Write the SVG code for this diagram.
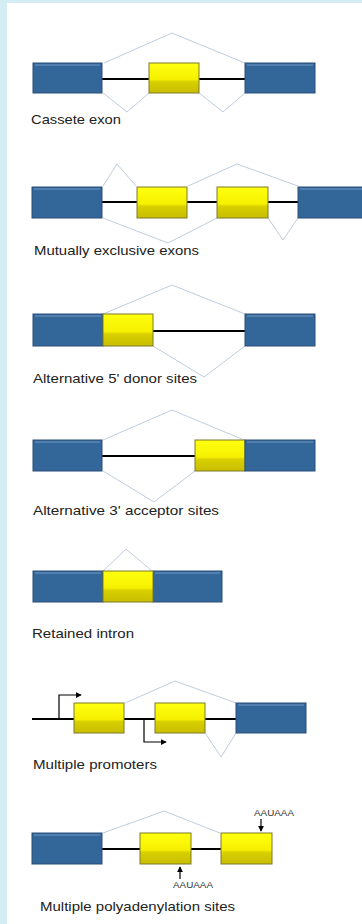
<svg xmlns="http://www.w3.org/2000/svg" width="362" height="924" viewBox="0 0 362 924">
<defs>
<linearGradient id="yg" x1="0" y1="0" x2="0" y2="1">
<stop offset="0" stop-color="#ffff10"/>
<stop offset="0.55" stop-color="#f6f000"/>
<stop offset="0.62" stop-color="#d9d000"/>
<stop offset="1" stop-color="#c8bd00"/>
</linearGradient>
<marker id="ah" viewBox="0 0 8 8" refX="7" refY="4" markerWidth="6" markerHeight="6" orient="auto" markerUnits="userSpaceOnUse">
<path d="M0,0 L8,4 L0,8 Z" fill="#000"/>
</marker>
<style>
.b{fill:#336699;stroke:#2a4e78;stroke-width:1}
.y{fill:url(#yg);stroke:#7d7a2a;stroke-width:1}
.hl{stroke:#6e98c8;stroke-width:1.2}
.ln{stroke:#000;stroke-width:2.2}
.sp{fill:none;stroke:#b8c6da;stroke-width:0.9}
.t{font-family:"Liberation Sans",Arial,sans-serif;font-size:13.5px;fill:#222}
.s{font-family:"Liberation Sans",Arial,sans-serif;font-size:8.5px;fill:#333}
.pa{fill:none;stroke:#000;stroke-width:1.2}
</style>
</defs>
<rect x="0" y="0" width="362" height="924" fill="#d4edf5"/>
<rect x="7" y="3" width="355" height="921" fill="#fff"/>

<g id="connectors">
<line class="ln" x1="102" y1="79" x2="245" y2="79"/>
<polyline class="sp" points="104,63 172,33 245,63"/>
<polyline class="sp" points="103,93 127,112 149,93"/>
<polyline class="sp" points="199,93 223,112 245,93"/>
<line class="ln" x1="102" y1="202" x2="298" y2="202"/>
<polyline class="sp" points="103,186 117,164 136,186"/>
<polyline class="sp" points="188,186 237,164 298,186"/>
<polyline class="sp" points="103,218 168,243 217,218"/>
<polyline class="sp" points="268,218 283,240 298,218"/>
<line class="ln" x1="153" y1="331" x2="245" y2="331"/>
<polyline class="sp" points="103,314 172,285 245,314"/>
<polyline class="sp" points="153,346 204,377 245,346"/>
<line class="ln" x1="102" y1="456" x2="195" y2="456"/>
<polyline class="sp" points="103,440 172,410 244,440"/>
<polyline class="sp" points="103,471 154,502 195,471"/>
<polyline class="sp" points="103,571 126,549 152,571"/>
<line class="ln" x1="32" y1="719" x2="236" y2="719"/>
<polyline class="sp" points="125,703 175,681 236,703"/>
<polyline class="sp" points="205,733 221,757 236,733"/>
<polyline class="pa" points="59,719 59,695 81,695" marker-end="url(#ah)"/>
<polyline class="pa" points="144,719 144,742 166,742" marker-end="url(#ah)"/>
<line class="ln" x1="102" y1="849" x2="221" y2="849"/>
<polyline class="sp" points="103,833 164,811 220,833"/>
<line class="pa" x1="261" y1="819" x2="261" y2="831" marker-end="url(#ah)"/>
<line class="pa" x1="180" y1="879" x2="180" y2="867" marker-end="url(#ah)"/>
</g>

<g id="cassette">
<rect class="b" x="33" y="63" width="69" height="30"/><line class="hl" x1="35" y1="65" x2="100" y2="65"/>
<rect class="y" x="149" y="63" width="50" height="30"/>
<rect class="b" x="245" y="63" width="70" height="30"/><line class="hl" x1="247" y1="65" x2="313" y2="65"/>
<text class="t" x="31" y="124" textLength="90" lengthAdjust="spacingAndGlyphs">Cassete exon</text>
</g>

<g id="mutually-exclusive">
<rect class="b" x="32" y="187" width="70" height="31"/><line class="hl" x1="34" y1="189" x2="100" y2="189"/>
<rect class="y" x="137" y="187" width="50" height="31"/>
<rect class="y" x="217" y="187" width="51" height="31"/>
<rect class="b" x="298" y="187" width="70" height="31"/><line class="hl" x1="300" y1="189" x2="366" y2="189"/>
<text class="t" x="34" y="255" textLength="165" lengthAdjust="spacingAndGlyphs">Mutually exclusive exons</text>
</g>

<g id="alt5">
<rect class="b" x="33" y="314" width="70" height="32"/><line class="hl" x1="35" y1="316" x2="101" y2="316"/>
<rect class="y" x="103" y="314" width="50" height="32"/>
<rect class="b" x="245" y="314" width="70" height="32"/><line class="hl" x1="247" y1="316" x2="313" y2="316"/>
<text class="t" x="33" y="383" textLength="164" lengthAdjust="spacingAndGlyphs">Alternative 5' donor sites</text>
</g>

<g id="alt3">
<rect class="b" x="33" y="440" width="69" height="31"/><line class="hl" x1="35" y1="442" x2="100" y2="442"/>
<rect class="y" x="195" y="440" width="50" height="31"/>
<rect class="b" x="245" y="440" width="70" height="31"/><line class="hl" x1="247" y1="442" x2="313" y2="442"/>
<text class="t" x="33" y="515" textLength="186" lengthAdjust="spacingAndGlyphs">Alternative 3' acceptor sites</text>
</g>

<g id="retained">
<rect class="b" x="33" y="571" width="70" height="31"/><line class="hl" x1="35" y1="573" x2="101" y2="573"/>
<rect class="b" x="153" y="571" width="69" height="31"/><line class="hl" x1="155" y1="573" x2="220" y2="573"/>
<rect class="y" x="103" y="571" width="50" height="31"/>
<text class="t" x="32" y="638" textLength="102" lengthAdjust="spacingAndGlyphs">Retained intron</text>
</g>

<g id="promoters">
<rect class="y" x="74" y="703" width="50" height="30"/>
<rect class="y" x="155" y="703" width="50" height="30"/>
<rect class="b" x="236" y="703" width="70" height="30"/><line class="hl" x1="238" y1="705" x2="304" y2="705"/>
<text class="t" x="33" y="769" textLength="124" lengthAdjust="spacingAndGlyphs">Multiple promoters</text>
</g>

<g id="polyA">
<rect class="b" x="32" y="833" width="70" height="31"/><line class="hl" x1="34" y1="835" x2="100" y2="835"/>
<rect class="y" x="140" y="833" width="51" height="31"/>
<rect class="y" x="221" y="833" width="51" height="31"/>
<text class="s" x="254" y="816" textLength="40" lengthAdjust="spacingAndGlyphs">AAUAAA</text>
<text class="s" x="173" y="888" textLength="40" lengthAdjust="spacingAndGlyphs">AAUAAA</text>
<text class="t" x="40" y="911" textLength="195" lengthAdjust="spacingAndGlyphs">Multiple polyadenylation sites</text>
</g>
</svg>
